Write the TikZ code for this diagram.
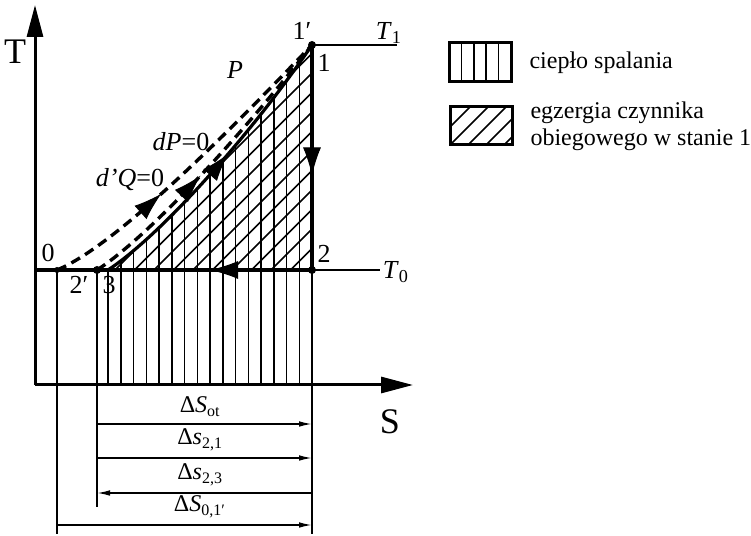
\documentclass[tikz,border=0pt]{standalone}
\usepackage{fontspec}
\setmainfont{Liberation Serif}
\usetikzlibrary{arrows.meta,positioning,calc,decorations.markings}

\begin{document}
\begin{tikzpicture}[x=0.5pt,y=0.5pt,
    axisline/.style={line width=1.5pt, -{Triangle[length=16pt,width=8pt]}},
    thickline/.style={line width=1.6pt},
    thinline/.style={line width=0.75pt},
    dashline/.style={line width=1.7pt, dash pattern=on 5pt off 3pt},
    dimarrow/.style={line width=0.75pt, -{Latex[length=6.5pt,width=2.8pt]}},
    midarrow/.style={postaction={decorate,decoration={markings,
        mark=at position #1 with {\arrow[solid, line width=0.5pt]{Latex[length=14pt,width=9pt]}}}}},
    lbl/.style={font=\fontsize{13}{15}\selectfont},
    dimlbl/.style={font=\fontsize{12}{14}\selectfont},
    big/.style={font=\fontsize{18}{20}\selectfont},
    legbox/.style={draw, line width=1.5pt, minimum width=31pt, minimum height=19.5pt, inner sep=0pt}]
    \useasboundingbox (0,0) rectangle (751,536);

    % points of the diagram
    \coordinate (O) at (35,151);
    \coordinate (Ttop) at (35,531);
    \coordinate (Send) at (413,151);
    \coordinate (p1) at (312,491);
    \coordinate (p2) at (312,266);
    \coordinate (p0) at (57,266);
    \coordinate (p2p) at (97,266);
    \coordinate (p3) at (108,266);
    \coordinate (T0left) at (35,266);
    \coordinate (T0end) at (380,266);
    \coordinate (T1end) at (397,491);
    \coordinate (e0) at (57,2);
    \coordinate (e2p) at (97,29);
    \coordinate (e2) at (312,2);

    % vertical hatching (ciepło spalania)
    \begin{scope}
        \clip (106,151) -- (106,266) -- (p3) .. controls (160,300) and (250,400) .. (p1) -- (313,491) -- (313,151) -- cycle;
        \foreach \i in {0,...,16}
            \draw[thinline] ({108+12.75*\i},151) -- ++(0,360);
    \end{scope}

    % diagonal hatching (egzergia)
    \begin{scope}
        \clip (p3) .. controls (160,300) and (250,400) .. (p1) -- (p2) -- cycle;
        \foreach \i in {-8,...,10}
            \draw[thinline] ({115+19.5*\i-10},256) -- ++(260,260);
    \end{scope}

    % axes
    \draw[axisline] (O) -- (Ttop);
    \draw[axisline] (O) -- (Send);
    \node[big] (Tlab) at (15,484) {T};
    \node[big] (Slab) at (390,114) {S};

    % isotherms
    \draw[thinline] (p1) -- (T1end);
    \draw[thickline] (T0left) -- (p2);
    \draw[thinline] (p2) -- (T0end);
    \draw[thickline, midarrow=0.5] (p2) -- (p3);
    \draw[thickline, midarrow=0.58] (p1) -- (p2);

    % curves
    \draw[dashline, midarrow=0.38] (p0) .. controls (115,290) and (225,400) .. (p1);
    \draw[dashline, midarrow=0.45] (p2p) .. controls (150,300) and (245,405) .. (p1);
    \draw[thickline, midarrow=0.55] (p3) .. controls (160,300) and (250,400) .. (p1);

    % extension lines
    \draw[thinline] (p0) -- (e0);
    \draw[thinline] (p2p) -- (e2p);
    \draw[thinline] (p2) -- (e2);

    % state points
    \fill (p1) circle (4);
    \fill (p2) circle (4);
    \fill (p2p) circle (4);
    \fill (p0) circle (3);

    % labels
    \node[lbl] (l1p) at (302,505) {1′};
    \node[lbl] (l1) at (324,473) {1};
    \node[lbl] (l2) at (324,282) {2};
    \node[lbl] (l0) at (48,283) {0};
    \node[lbl] (l2p) at (79,251) {2′};
    \node[lbl] (l3) at (109,251) {3};
    \node[lbl] (lT1) at (389,503) {\textit{T}\textsubscript{1}};
    \node[lbl] (lT0) at (396,264) {\textit{T}\textsubscript{0}};
    \node[lbl] (lP) at (235,466) {\textit{P}};
    \node[lbl] (ldP) at (181,394) {\textit{dP}=0};
    \node[lbl] (ldQ) at (130,356) {\textit{d'Q}=0};

    % dimension arrows
    \coordinate (a1s) at (97,112);
    \coordinate (a1e) at (312,112);
    \coordinate (a2s) at (97,78);
    \coordinate (a2e) at (312,78);
    \coordinate (a3s) at (312,43);
    \coordinate (a3e) at (97,43);
    \coordinate (a4s) at (57,11);
    \coordinate (a4e) at (312,11);
    \draw[dimarrow] (a1s) -- (a1e) node[dimlbl, pos=0.48, above] {Δ\textit{S}\textsubscript{ot}};
    \draw[dimarrow] (a2s) -- (a2e) node[dimlbl, pos=0.48, above] {Δ\textit{s}\textsubscript{2,1}};
    \draw[dimarrow] (a3s) -- (a3e) node[dimlbl, pos=0.52, above] {Δ\textit{s}\textsubscript{2,3}};
    \draw[dimarrow] (a4s) -- (a4e) node[dimlbl, pos=0.56, above] {Δ\textit{S}\textsubscript{0,1′}};

    % legend
    \node[legbox, path picture={
        \foreach \f in {0.2,0.4,0.6,0.8}
            \draw[thinline] ($(path picture bounding box.south west)!\f!(path picture bounding box.south east)$) -- ++(0,25pt);
        }] (leg1) at (480,473.5) {};
    \node[legbox, minimum height=19pt, path picture={
        \foreach \k in {-3,...,3}
            \draw[thinline] ($(path picture bounding box.south west)+(\k*9pt,0)$) -- ++(25pt,25pt);
        }] (leg2) at (481,410) {};
    \node[dimlbl, right=5pt of leg1] (legtxt1) {ciepło spalania};
    \node[right=5pt of leg2, align=left, font=\fontsize{12}{13.5}\selectfont] (legtxt2) {egzergia czynnika\\obiegowego w stanie 1};
\end{tikzpicture}
\end{document}
